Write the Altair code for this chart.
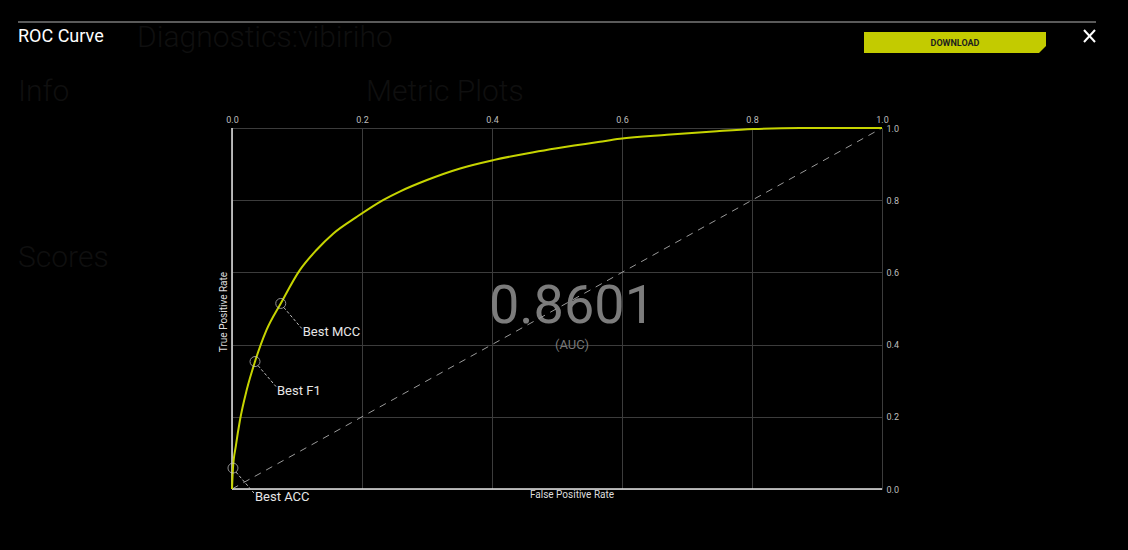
import altair as alt
import pandas as pd

# ROC curve
fpr = [0.0, 0.0015, 0.006, 0.0123, 0.0226, 0.0354, 0.053, 0.075, 0.1046, 0.130, 0.156,
       0.192, 0.233, 0.258, 0.300, 0.351, 0.402, 0.464, 0.500, 0.566, 0.597, 0.669,
       0.746, 0.802, 0.874, 1.0]
tpr = [0.0, 0.058, 0.12, 0.191, 0.274, 0.353, 0.44, 0.514, 0.607, 0.662, 0.708,
       0.754, 0.801, 0.824, 0.856, 0.888, 0.911, 0.933, 0.944, 0.962, 0.970, 0.981,
       0.991, 0.997, 1.0, 1.0]

best_names = ["Best ACC", "Best F1", "Best MCC"]
best_fpr = [0.0015, 0.0354, 0.075]
best_tpr = [0.058, 0.353, 0.514]

diag_x = [0.0, 1.0]
diag_y = [0.0, 1.0]

auc_text = "0.8601"
tick_vals = [0.0, 0.2, 0.4, 0.6, 0.8, 1.0]

FONT = "Roboto"
curve_df = pd.DataFrame({"fpr": fpr, "tpr": tpr})
best_df = pd.DataFrame({"name": best_names, "fpr": best_fpr, "tpr": best_tpr})
diag_df = pd.DataFrame({"fpr": diag_x, "tpr": diag_y})
one = pd.DataFrame({"a": [0]})

X0, Y0 = 232, 128  # plot origin in page pixels
W, H = 650, 361

xs = alt.Scale(domain=[0, 1], nice=False, zero=False)
ys = alt.Scale(domain=[0, 1], nice=False, zero=False)

axis_common = dict(values=tick_vals, format=".1f", ticks=False, domain=False, grid=True,
                   gridColor="#3c3c3c", gridWidth=1, labelColor="#bdbdbd",
                   labelFontSize=9, labelFont=FONT, labelPadding=4, labelFlush=False,
                   labelOverlap=False)
xenc = alt.X("fpr:Q", scale=xs, title=None, axis=alt.Axis(orient="top", **axis_common))
yenc = alt.Y("tpr:Q", scale=ys, title=None, axis=alt.Axis(orient="right", **axis_common))


def px(v):
    return alt.value(v - X0)


def py(v):
    return alt.value(v - Y0)


# faint background page text
bg_items = [
    ("Diagnostics:vibiriho", 137, 38, 30),
    ("Info", 18, 92, 30),
    ("Metric Plots", 366, 92, 30),
    ("Scores", 18, 258, 30),
]
bg_layers = []
for t, x, y, s in bg_items:
    bg_layers.append(
        alt.Chart(one).mark_text(text=t, align="left", baseline="middle", font=FONT,
                                 fontSize=s, fontWeight=300, color="#0f0f0f")
        .encode(x=px(x), y=py(y))
    )

auc_big = alt.Chart(one).mark_text(text=auc_text, align="center", baseline="alphabetic",
                                   font=FONT, fontSize=54, color="#7c7c7c").encode(
    x=px(572), y=py(323))
auc_small = alt.Chart(one).mark_text(text="(AUC)", align="center", baseline="middle",
                                     font=FONT, fontSize=13, color="#777777").encode(
    x=px(572), y=py(345))

grid_base = alt.Chart(curve_df).mark_point(opacity=0).encode(x=xenc, y=yenc)

diag = alt.Chart(diag_df).mark_line(color="#9a9a9a", strokeWidth=1,
                                    strokeDash=[7, 6]).encode(
    x=alt.X("fpr:Q", scale=xs), y=alt.Y("tpr:Q", scale=ys))

x_domain = alt.Chart(one).mark_rule(color="#e6e6e6", strokeWidth=1.5).encode(
    x=alt.datum(0, scale=xs))
y_domain = alt.Chart(one).mark_rule(color="#e6e6e6", strokeWidth=1.5).encode(
    y=alt.datum(0, scale=ys))

curve = alt.Chart(curve_df).mark_line(color="#c6d400", strokeWidth=2,
                                      interpolate="monotone").encode(
    x=alt.X("fpr:Q", scale=xs), y=alt.Y("tpr:Q", scale=ys), order="fpr:Q")

circles = alt.Chart(best_df).mark_point(shape="circle", size=100, filled=False,
                                        color="#cfcfcf", strokeWidth=1).encode(
    x=alt.X("fpr:Q", scale=xs), y=alt.Y("tpr:Q", scale=ys))

leaders = alt.Chart(best_df).mark_rule(color="#bdbdbd", strokeWidth=1,
                                       strokeDash=[3, 2],
                                       xOffset=3, yOffset=4,
                                       x2Offset=21, y2Offset=25).encode(
    x=alt.X("fpr:Q", scale=xs), y=alt.Y("tpr:Q", scale=ys),
    x2="fpr:Q", y2="tpr:Q")

labels = alt.Chart(best_df).mark_text(align="left", baseline="middle", dx=22, dy=29,
                                      font=FONT, fontSize=13, color="#e6e6e6").encode(
    x=alt.X("fpr:Q", scale=xs), y=alt.Y("tpr:Q", scale=ys), text="name:N")

x_title = alt.Chart(one).mark_text(text="False Positive Rate", align="center",
                                   baseline="middle", font=FONT, fontSize=10,
                                   color="#dddddd").encode(x=px(572), y=py(495))
y_title = alt.Chart(one).mark_text(text="True Positive Rate", align="center",
                                   baseline="middle", angle=270, font=FONT, fontSize=10,
                                   color="#dddddd").encode(x=px(224), y=py(312))

# modal header
title = alt.Chart(one).mark_text(text="ROC Curve", align="left", baseline="middle",
                                 font=FONT, fontSize=18, color="#ffffff").encode(
    x=px(18), y=py(37))
top_line = alt.Chart(one).mark_rule(color="#5a5a5a", strokeWidth=2).encode(
    x=px(18), x2=px(1096), y=py(22))
button = alt.Chart(one).mark_rect(color="#c3cb00").encode(
    x=px(864), x2=px(1046), y=py(32), y2=py(53))
button_notch = alt.Chart(one).mark_point(shape="M 1 1 L 1 -1 L -1 1 Z", filled=True,
                                         size=49, color="#000000", opacity=1,
                                         strokeWidth=0).encode(
    x=px(1042.5), y=py(49.5))
button_text = alt.Chart(one).mark_text(text="DOWNLOAD", align="center", baseline="middle",
                                       font=FONT, fontSize=9, fontWeight="bold",
                                       color="#1e1e1e").encode(x=px(955), y=py(43))
close1 = alt.Chart(one).mark_rule(color="#ffffff", strokeWidth=2).encode(
    x=px(1084), x2=px(1095), y=py(30), y2=py(42))
close2 = alt.Chart(one).mark_rule(color="#ffffff", strokeWidth=2).encode(
    x=px(1084), x2=px(1095), y=py(42), y2=py(30))

chart = alt.layer(
    *bg_layers, grid_base, auc_big, auc_small, diag, x_domain, y_domain, curve,
    circles, leaders, labels, x_title, y_title, title, top_line, button, button_notch,
    button_text, close1, close2
).properties(
    width=W, height=H,
    padding={"left": X0, "top": Y0, "right": 1128 - X0 - W, "bottom": 550 - Y0 - H},
    autosize=alt.AutoSizeParams(type="none"),
    background="#000000",
).configure_view(stroke=None)

chart.save("out.html", embed_options={"renderer": "svg", "actions": False})
